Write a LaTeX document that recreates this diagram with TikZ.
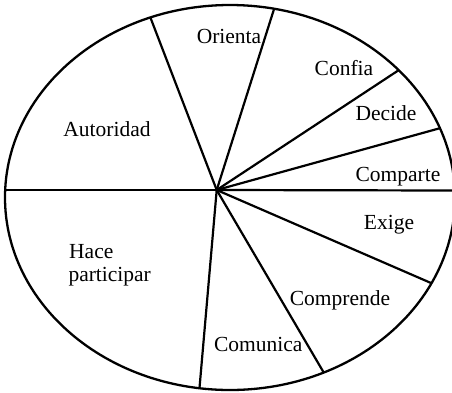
\documentclass[tikz,border=0pt]{standalone}
\usepackage{fontspec}
\setmainfont{Liberation Serif}
\usetikzlibrary{calc}
\begin{document}
\begin{tikzpicture}[x=1pt,y=-1pt,
  lbl/.style={font=\fontsize{21.5}{24}\selectfont, inner sep=0pt, anchor=base},
  lblw/.style={lbl, anchor=base west},
  rim/.style={line width=2.3pt},
  spoke/.style={line width=2.2pt}]
\useasboundingbox (0,0) rectangle (452,392);
\fill[white] (0,0) rectangle (452,392);
\coordinate (C) at (216.7,190);
\coordinate (E) at (230,197.5);
\coordinate (p1) at (150.7,18.3);
\coordinate (p2) at (275,6);
\coordinate (p3) at (400,69.3);
\coordinate (p4) at (441.7,127.7);
\coordinate (p5) at (452,190.5);
\coordinate (p6) at (431.7,283.3);
\coordinate (p7) at (324,373);
\coordinate (p8) at (199.5,388);
\coordinate (p9) at (5,190);
\begin{scope}
  \clip (0,0) rectangle (452,392);
  \draw[rim] (E) ellipse [x radius=225, y radius=192.5];
\end{scope}
\begin{scope}
  \clip (E) ellipse [x radius=225, y radius=192.5];
  \foreach \p in {p1,p2,p3,p4,p5,p6,p7,p8,p9}
    \draw[spoke] (C) -- ($(C)!1.5!(\p)$);
\end{scope}
\node[lbl] (orienta) at (229,43) {Orienta};
\node[lbl] (confia) at (344,75) {Confia};
\node[lbl] (decide) at (386,120.7) {Decide};
\node[lbl] (comparte) at (398,181.7) {Comparte};
\node[lbl] (exige) at (389,229.3) {Exige};
\node[lbl] (comprende) at (340,305) {Comprende};
\node[lbl] (comunica) at (258.3,351.7) {Comunica};
\node[lblw] (hace) at (69,258.3) {Hace};
\node[lblw] (participar) at (68.3,281.7) {participar};
\node[lbl] (autoridad) at (107,136) {Autoridad};
\end{tikzpicture}
\end{document}
